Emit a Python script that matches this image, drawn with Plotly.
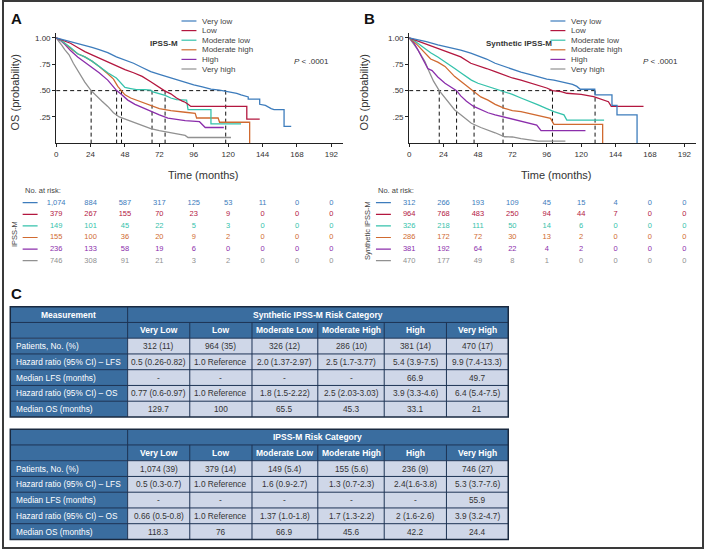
import plotly.graph_objects as go

# ------------------------------------------------------------------ data
groups = ["Very low", "Low", "Moderate low", "Moderate high", "High", "Very high"]

# Panel A: IPSS-M, overall survival (months, probability)
a_vl_t = [0, 3, 6, 10, 15, 20, 25, 30, 36, 42, 48, 54, 60, 66, 72, 78, 84, 90, 96, 102, 108, 114, 118, 122, 126, 129, 132, 134, 134, 138, 142, 142, 146, 150, 152, 158, 159, 159, 164]
a_vl_s = [1.0, 0.99, 0.98, 0.965, 0.95, 0.93, 0.91, 0.89, 0.86, 0.82, 0.79, 0.76, 0.72, 0.68, 0.655, 0.63, 0.60, 0.575, 0.555, 0.535, 0.515, 0.505, 0.497, 0.49, 0.475, 0.46, 0.45, 0.44, 0.42, 0.42, 0.42, 0.37, 0.36, 0.33, 0.32, 0.32, 0.32, 0.16, 0.16]
a_lo_t = [0, 3, 6, 10, 15, 20, 25, 30, 36, 42, 48, 54, 60, 66, 72, 76, 80, 84, 88, 90, 92, 94, 100, 133, 133, 142]
a_lo_s = [1.0, 0.985, 0.97, 0.95, 0.91, 0.87, 0.84, 0.81, 0.77, 0.735, 0.70, 0.67, 0.635, 0.585, 0.53, 0.495, 0.47, 0.43, 0.40, 0.39, 0.37, 0.35, 0.35, 0.35, 0.23, 0.23]
a_ml_t = [0, 3, 6, 10, 15, 20, 25, 30, 36, 42, 45, 48, 52, 56, 62, 66, 67, 72, 76, 80, 84, 91, 92, 108, 108, 129]
a_ml_s = [1.0, 0.98, 0.95, 0.91, 0.85, 0.82, 0.78, 0.73, 0.67, 0.62, 0.57, 0.53, 0.52, 0.51, 0.51, 0.505, 0.49, 0.47, 0.455, 0.43, 0.415, 0.41, 0.32, 0.32, 0.185, 0.185]
a_mh_t = [0, 3, 6, 10, 15, 20, 25, 30, 36, 40, 43, 45.6, 48, 52, 56, 60, 66, 72, 76, 80, 90, 97, 98, 113, 114, 135, 135]
a_mh_s = [1.0, 0.98, 0.95, 0.90, 0.85, 0.82, 0.78, 0.73, 0.66, 0.61, 0.54, 0.50, 0.46, 0.43, 0.41, 0.39, 0.36, 0.33, 0.32, 0.31, 0.295, 0.285, 0.24, 0.24, 0.20, 0.20, 0.0]
a_hi_t = [0, 3, 6, 10, 15, 20, 25, 30, 36, 40, 42.2, 45, 50, 55, 60, 66, 72, 78, 84, 90, 100, 104, 117]
a_hi_s = [1.0, 0.975, 0.94, 0.88, 0.82, 0.77, 0.72, 0.67, 0.60, 0.54, 0.50, 0.47, 0.41, 0.37, 0.34, 0.30, 0.27, 0.24, 0.225, 0.215, 0.205, 0.15, 0.15]
a_vh_t = [0, 2, 4, 6, 9, 12, 16, 20, 24.4, 28, 32, 36, 40, 44, 50, 55, 60, 66, 72, 78, 84, 90, 92, 122]
a_vh_s = [1.0, 0.97, 0.93, 0.89, 0.84, 0.76, 0.67, 0.58, 0.50, 0.45, 0.40, 0.35, 0.29, 0.25, 0.22, 0.19, 0.165, 0.14, 0.12, 0.105, 0.09, 0.075, 0.055, 0.055]

# Panel B: Synthetic IPSS-M
b_vl_t = [0, 6, 12, 20, 30, 36, 43, 48, 54, 60, 66, 72, 78, 84, 90, 96, 101, 108, 114, 117, 119.4, 129.5, 129.7, 141.5, 141.5, 145, 145, 159, 159]
b_vl_s = [1.0, 0.985, 0.965, 0.935, 0.905, 0.885, 0.856, 0.83, 0.80, 0.76, 0.73, 0.70, 0.675, 0.655, 0.633, 0.61, 0.60, 0.58, 0.56, 0.54, 0.513, 0.513, 0.46, 0.46, 0.36, 0.36, 0.27, 0.27, 0.0]
b_lo_t = [0, 6, 12, 20, 30, 36, 43, 48, 54, 60, 66, 72, 78, 84, 90, 96, 100, 106, 110, 120, 128.7, 134, 139, 141, 163.5]
b_lo_s = [1.0, 0.97, 0.94, 0.90, 0.85, 0.82, 0.76, 0.74, 0.71, 0.68, 0.65, 0.62, 0.60, 0.575, 0.554, 0.525, 0.50, 0.49, 0.475, 0.465, 0.443, 0.42, 0.395, 0.35, 0.35]
b_ml_t = [0, 3, 6, 10, 15, 20, 25, 31.8, 36, 43.4, 48, 55, 60, 65.5, 72, 78, 84, 90, 96, 101, 108, 110, 136]
b_ml_s = [1.0, 0.98, 0.95, 0.91, 0.86, 0.82, 0.77, 0.71, 0.67, 0.60, 0.57, 0.54, 0.52, 0.50, 0.465, 0.43, 0.40, 0.364, 0.33, 0.30, 0.27, 0.22, 0.22]
b_mh_t = [0, 3, 6, 10, 15, 20, 25, 31.8, 36, 40, 43.4, 45.3, 50, 55, 60, 66.6, 72, 78, 85, 94, 98.6, 101, 135, 135]
b_mh_s = [1.0, 0.97, 0.93, 0.87, 0.80, 0.77, 0.73, 0.633, 0.59, 0.55, 0.507, 0.49, 0.44, 0.41, 0.37, 0.332, 0.31, 0.30, 0.28, 0.252, 0.237, 0.18, 0.18, 0.0]
b_hi_t = [0, 3, 6, 10, 13, 16, 20, 25, 30, 33.1, 36, 40, 45, 50, 55, 60, 66, 72, 78, 84, 89, 92, 123]
b_hi_s = [1.0, 0.96, 0.89, 0.78, 0.71, 0.69, 0.63, 0.57, 0.53, 0.50, 0.45, 0.40, 0.35, 0.32, 0.29, 0.27, 0.25, 0.23, 0.215, 0.19, 0.173, 0.12, 0.12]
b_vh_t = [0, 3, 6, 9, 11, 14, 17, 21, 25, 31.8, 36, 43.4, 50, 55, 60, 66.6, 72, 78, 84.7, 90, 109]
b_vh_s = [1.0, 0.95, 0.89, 0.82, 0.776, 0.68, 0.59, 0.50, 0.43, 0.316, 0.27, 0.19, 0.15, 0.126, 0.10, 0.062, 0.06, 0.045, 0.03, 0.02, 0.02]

risk_times = [0, 24, 48, 72, 96, 120, 144, 168, 192]
a_risk = [
    [1074, 884, 587, 317, 125, 53, 11, 0, 0],
    [379, 267, 155, 70, 23, 9, 0, 0, 0],
    [149, 101, 45, 22, 5, 3, 0, 0, 0],
    [155, 100, 36, 20, 9, 2, 0, 0, 0],
    [236, 133, 58, 19, 6, 0, 0, 0, 0],
    [746, 308, 91, 21, 3, 2, 0, 0, 0],
]
b_risk = [
    [312, 266, 193, 109, 45, 15, 4, 0, 0],
    [964, 768, 483, 250, 94, 44, 7, 0, 0],
    [326, 218, 111, 50, 14, 6, 0, 0, 0],
    [286, 172, 72, 30, 13, 2, 0, 0, 0],
    [381, 192, 64, 22, 4, 2, 0, 0, 0],
    [470, 177, 49, 8, 1, 0, 0, 0, 0],
]

table_cols = ["Very Low", "Low", "Moderate Low", "Moderate High", "High", "Very High"]
row_labels = ["Patients, No. (%)", "Hazard ratio (95% CI) \u2013 LFS", "Median LFS (months)",
              "Hazard ratio (95% CI) \u2013 OS", "Median OS (months)"]
syn_patients = ["312 (11)", "964 (35)", "326 (12)", "286 (10)", "381 (14)", "470 (17)"]
syn_hr_lfs = ["0.5 (0.26-0.82)", "1.0 Reference", "2.0 (1.37-2.97)", "2.5 (1.7-3.77)", "5.4 (3.9-7.5)", "9.9 (7.4-13.3)"]
syn_med_lfs = ["-", "-", "-", "-", "66.9", "49.7"]
syn_hr_os = ["0.77 (0.6-0.97)", "1.0 Reference", "1.8 (1.5-2.22)", "2.5 (2.03-3.03)", "3.9 (3.3-4.6)", "6.4 (5.4-7.5)"]
syn_med_os = ["129.7", "100", "65.5", "45.3", "33.1", "21"]
ipss_patients = ["1,074 (39)", "379 (14)", "149 (5.4)", "155 (5.6)", "236 (9)", "746 (27)"]
ipss_hr_lfs = ["0.5 (0.3-0.7)", "1.0 Reference", "1.6 (0.9-2.7)", "1.3 (0.7-2.3)", "2.4(1.6-3.8)", "5.3 (3.7-7.6)"]
ipss_med_lfs = ["-", "-", "-", "-", "-", "55.9"]
ipss_hr_os = ["0.66 (0.5-0.8)", "1.0 Reference", "1.37 (1.0-1.8)", "1.7 (1.3-2.2)", "2 (1.6-2.6)", "3.9 (3.2-4.7)"]
ipss_med_os = ["118.3", "76", "66.9", "45.6", "42.2", "24.4"]

# ------------------------------------------------------------------ style
W, H = 706, 549
FONT = "Liberation Sans, Arial, sans-serif"
colors = ["#3d7cbc", "#b3173f", "#35c2ab", "#d06a30", "#8b2eab", "#919191"]
HEAD = "#3a6d9f"
BODY = "#cfd7e8"
BORDER = "#1d3354"
TXT = "#333333"


def px(x):
    return x / W


def py(y):
    return 1 - y / H


PPM = 1.4375          # pixels per month
XMAX = 200
Y0, Y1 = 143.3, 32.7  # pixel rows of 0 and 1.05

a_curves = [(a_vl_t, a_vl_s), (a_lo_t, a_lo_s), (a_ml_t, a_ml_s), (a_mh_t, a_mh_s), (a_hi_t, a_hi_s), (a_vh_t, a_vh_s)]
b_curves = [(b_vl_t, b_vl_s), (b_lo_t, b_lo_s), (b_ml_t, b_ml_s), (b_mh_t, b_mh_s), (b_hi_t, b_hi_s), (b_vh_t, b_vh_s)]

panels = [
    dict(letter="A", sx="", rx="3", x0=54.3, curves=a_curves, risk=a_risk,
         medians=[float(v) for v in ipss_med_os], name="IPSS-M", name_x=162,
         leg_x=180, pval_x=291, risk_left=20.7, ylab_x=13, rlab_x=12, rlab_y=234, letter_x=14.5),
    dict(letter="B", sx="2", rx="4", x0=408.3, curves=b_curves, risk=b_risk,
         medians=[float(v) for v in syn_med_os], name="Synthetic IPSS-M", name_x=518,
         leg_x=550, pval_x=641, risk_left=375, ylab_x=363, rlab_x=366, rlab_y=230, letter_x=369),
]

fig = go.Figure()
shapes = []
annotations = []
layout = {}


def risk_idx(ypix):
    return (ypix - 202.7) / 11.6


for p in panels:
    xa = "x" + p["sx"]
    ya = "y" + p["sx"]
    x0 = p["x0"]
    layout["xaxis" + p["sx"]] = dict(
        domain=[px(x0), px(x0 + PPM * XMAX)], range=[0, XMAX], anchor=ya,
        tickvals=risk_times, ticks="outside", ticklen=3, tickwidth=1, tickcolor="#222",
        showline=True, linecolor="#222", linewidth=1, showgrid=False, zeroline=False,
        tickfont=dict(size=8, color=TXT, family=FONT), fixedrange=True)
    layout["yaxis" + p["sx"]] = dict(
        domain=[py(Y0), py(Y1)], range=[0, 1.05], anchor=xa,
        tickvals=[0.25, 0.5, 0.75, 1.0], ticktext=[".25", ".50", ".75", "1.00"],
        ticks="outside", ticklen=3, tickwidth=1, tickcolor="#222",
        showline=True, linecolor="#222", linewidth=1, showgrid=False, zeroline=False,
        tickfont=dict(size=8, color=TXT, family=FONT), fixedrange=True)

    # median dashed guide lines
    meds = p["medians"]
    mx, my = [0, max(meds), None], [0.5, 0.5, None]
    for m in meds:
        mx += [m, m, None]
        my += [0.5, 0, None]
    fig.add_trace(go.Scatter(x=mx, y=my, mode="lines", xaxis=xa, yaxis=ya,
                             line=dict(color="#111", width=1, dash="4px,3px"),
                             hoverinfo="skip", showlegend=False))
    # KM curves (very low drawn last so it sits on top)
    for i in reversed(range(6)):
        t, s = p["curves"][i]
        fig.add_trace(go.Scatter(x=t, y=s, mode="lines", xaxis=xa, yaxis=ya,
                                 line=dict(color=colors[i], width=1.3),
                                 name=groups[i], hoverinfo="skip", showlegend=False))

    # risk table axes
    rxa = "x" + p["rx"]
    rya = "y" + p["rx"]
    left_px = p["risk_left"] - 12
    layout["xaxis" + p["rx"]] = dict(
        domain=[px(left_px), px(x0 + PPM * XMAX)], range=[(left_px - x0) / PPM, XMAX],
        anchor=rya, visible=False, fixedrange=True)
    layout["yaxis" + p["rx"]] = dict(
        domain=[py(268), py(185)], range=[risk_idx(268), risk_idx(185)],
        anchor=rxa, visible=False, fixedrange=True)
    lx = [(p["risk_left"] - x0) / PPM, (p["risk_left"] + 15 - x0) / PPM]
    for i in range(6):
        fig.add_trace(go.Scatter(x=lx, y=[i, i], mode="lines", xaxis=rxa, yaxis=rya,
                                 line=dict(color=colors[i], width=1.2),
                                 hoverinfo="skip", showlegend=False))
        fig.add_trace(go.Scatter(x=risk_times, y=[i] * len(risk_times), mode="text",
                                 text=[f"{v:,}" for v in p["risk"][i]],
                                 textfont=dict(size=7.5, color=colors[i], family=FONT),
                                 xaxis=rxa, yaxis=rya, hoverinfo="skip", showlegend=False))
    annotations.append(dict(text="No. at risk:", x=px(p["risk_left"]), y=py(190.8),
                            xref="paper", yref="paper", xanchor="left", yanchor="middle",
                            showarrow=False, font=dict(size=7.5, color="#444", family=FONT)))
    annotations.append(dict(text=p["name"], x=px(p["rlab_x"]), y=py(p["rlab_y"]),
                            xref="paper", yref="paper", textangle=-90, showarrow=False,
                            xanchor="center", yanchor="middle",
                            font=dict(size=7.5, color="#444", family=FONT)))

    # legend (manual)
    for i in range(6):
        yy = 21 + 9.6 * i
        shapes.append(dict(type="line", xref="paper", yref="paper",
                           x0=px(p["leg_x"]), x1=px(p["leg_x"] + 15), y0=py(yy), y1=py(yy),
                           line=dict(color=colors[i], width=1.2)))
        annotations.append(dict(text=groups[i], x=px(p["leg_x"] + 19), y=py(yy),
                                xref="paper", yref="paper", xanchor="left", yanchor="middle",
                                showarrow=False, font=dict(size=8, color="#444", family=FONT)))
    annotations.append(dict(text="<b>" + p["name"] + "</b>", x=px(p["name_x"]), y=py(44),
                            xref="paper", yref="paper", xanchor="center", yanchor="middle",
                            showarrow=False, font=dict(size=8, color="#333", family=FONT)))
    annotations.append(dict(text="<i>P</i> < .0001", x=px(p["pval_x"]), y=py(61),
                            xref="paper", yref="paper", xanchor="left", yanchor="middle",
                            showarrow=False, font=dict(size=8, color="#333", family=FONT)))
    annotations.append(dict(text="Time (months)", x=px(x0 + 148), y=py(175),
                            xref="paper", yref="paper", xanchor="center", yanchor="middle",
                            showarrow=False, font=dict(size=11, color="#333", family=FONT)))
    annotations.append(dict(text="OS (probability)", x=px(p["ylab_x"]), y=py(92.5),
                            xref="paper", yref="paper", textangle=-90, showarrow=False,
                            xanchor="center", yanchor="middle",
                            font=dict(size=11, color="#333", family=FONT)))
    annotations.append(dict(text="<b>" + p["letter"] + "</b>", x=px(p["letter_x"]), y=py(18),
                            xref="paper", yref="paper", showarrow=False,
                            xanchor="center", yanchor="middle",
                            font=dict(size=15, color="#111", family=FONT)))

annotations.append(dict(text="<b>C</b>", x=px(14.5), y=py(293), xref="paper", yref="paper",
                        xanchor="center", yanchor="middle",
                        showarrow=False, font=dict(size=15, color="#111", family=FONT)))

# ------------------------------------------------------------------ table C
layout["xaxis5"] = dict(domain=[0, 1], range=[0, W], anchor="y5", visible=False, fixedrange=True)
layout["yaxis5"] = dict(domain=[0, 1], range=[H, 0], anchor="x5", visible=False, fixedrange=True)
fig.add_trace(go.Scatter(x=[0], y=[0], mode="markers", marker=dict(opacity=0),
                         xaxis="x5", yaxis="y5", hoverinfo="skip", showlegend=False))

col_edges = [8.3, 126, 188.3, 250.7, 316.7, 383.3, 445.7, 507.7]
ROW_H = 15.75


def rect(x0, y0, x1, y1, fill, lw=0, lc=BORDER):
    return dict(type="rect", xref="x5", yref="y5", x0=x0, y0=y0, x1=x1, y1=y1,
                fillcolor=fill, line=dict(width=lw, color=lc), layer="above")


def hline(x0, x1, y, lw=1):
    return dict(type="line", xref="x5", yref="y5", x0=x0, x1=x1, y0=y, y1=y,
                line=dict(width=lw, color=BORDER), layer="above")


def vline(x, y0, y1, lw=1):
    return dict(type="line", xref="x5", yref="y5", x0=x, x1=x, y0=y0, y1=y1,
                line=dict(width=lw, color=BORDER), layer="above")


def cell_text(text, x, y, color, anchor="center", bold=False, size=8.3):
    annotations.append(dict(text=("<b>" + text + "</b>") if bold else text, x=x, y=y,
                            xref="x5", yref="y5", xanchor=anchor, yanchor="middle",
                            showarrow=False, font=dict(size=size, color=color, family=FONT)))


def draw_table(top, corner, title, rows):
    L, R = col_edges[0], col_edges[-1]
    bottom = top + 7 * ROW_H
    shapes.append(rect(L, top, R, top + 2 * ROW_H, HEAD))
    shapes.append(rect(L, top + 2 * ROW_H, col_edges[1], bottom, HEAD))
    shapes.append(rect(col_edges[1], top + 2 * ROW_H, R, bottom, BODY))
    for k in range(1, 7):
        shapes.append(hline(L, R, top + k * ROW_H))
    shapes.append(vline(col_edges[1], top, bottom))
    for c in col_edges[2:-1]:
        shapes.append(vline(c, top + ROW_H, bottom))
    shapes.append(rect(L, top, R, bottom, "rgba(0,0,0,0)", lw=1.5, lc="#1a2a40"))
    # header
    cell_text(corner, (col_edges[0] + col_edges[1]) / 2, top + ROW_H / 2, "white", bold=True, size=8.5)
    cell_text(title, (col_edges[1] + R) / 2, top + ROW_H / 2, "white", bold=True, size=8.5)
    for j, name in enumerate(table_cols):
        cell_text(name, (col_edges[j + 1] + col_edges[j + 2]) / 2, top + 1.5 * ROW_H, "white", bold=True, size=8.5)
    for r, (lab, vals) in enumerate(zip(row_labels, rows)):
        yc = top + (2.5 + r) * ROW_H
        cell_text(lab, col_edges[0] + 3.5, yc, "white", anchor="left")
        for j, v in enumerate(vals):
            cell_text(v, (col_edges[j + 1] + col_edges[j + 2]) / 2, yc, TXT)


draw_table(306.7, "Measurement", "Synthetic IPSS-M Risk Category",
           [syn_patients, syn_hr_lfs, syn_med_lfs, syn_hr_os, syn_med_os])
draw_table(429.2, "", "IPSS-M Risk Category",
           [ipss_patients, ipss_hr_lfs, ipss_med_lfs, ipss_hr_os, ipss_med_os])

# outer frame
shapes.append(dict(type="rect", xref="paper", yref="paper", x0=px(1), y0=py(1), x1=px(703), y1=py(548),
                   line=dict(color="#3a3a3a", width=2), fillcolor="rgba(0,0,0,0)"))

fig.update_layout(
    width=W, height=H, margin=dict(l=0, r=0, t=0, b=0),
    paper_bgcolor="white", plot_bgcolor="rgba(0,0,0,0)",
    font=dict(family=FONT), showlegend=False,
    shapes=shapes, annotations=annotations, **layout)

fig.write_html("out.html", config={"displayModeBar": False},
               post_script="document.body.style.margin='0px';")
